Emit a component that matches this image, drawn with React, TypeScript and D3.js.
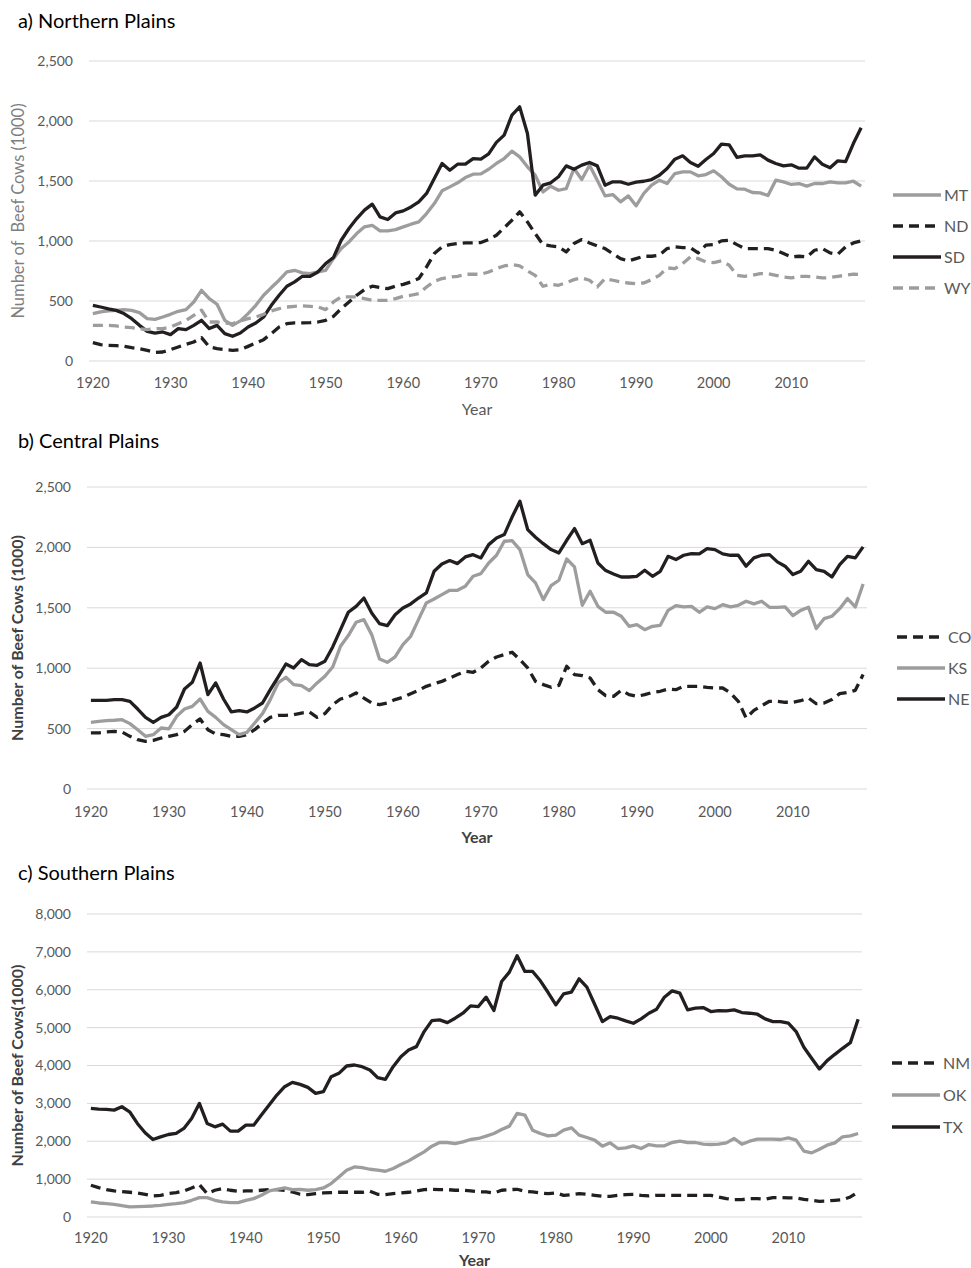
import React from "react";
import * as d3 from "d3";

// years on the category axis
const years = d3.range(1920, 2020);
const decadeTicks = [1920, 1930, 1940, 1950, 1960, 1970, 1980, 1990, 2000, 2010];

// a) Northern Plains
const mt = [
  395, 409, 417, 422, 428, 422, 403, 353, 347, 367,
  389, 414, 428, 492, 589, 520, 473, 339, 297, 334,
  395, 464, 548, 612, 673, 742, 756, 734, 728, 742,
  756, 853, 937, 992, 1062, 1118, 1131, 1084, 1084, 1095,
  1118, 1140, 1159, 1229, 1312, 1418, 1451, 1485, 1529, 1557,
  1560, 1598, 1646, 1687, 1749, 1701, 1618, 1548, 1409, 1456,
  1423, 1437, 1604, 1512, 1632, 1507, 1376, 1387, 1326, 1376,
  1293, 1396, 1465, 1507, 1479, 1562, 1576, 1576, 1543, 1554,
  1585, 1535, 1473, 1434, 1432, 1404, 1401, 1379, 1507, 1493,
  1471, 1479, 1457, 1479, 1479, 1493, 1485, 1485, 1498, 1457,
];
const nd = [
  153, 136, 131, 128, 122, 111, 103, 89, 72, 75,
  95, 117, 139, 158, 195, 117, 103, 95, 89, 95,
  122, 150, 178, 228, 283, 311, 317, 317, 320, 325,
  339, 372, 436, 492, 548, 595, 623, 612, 603, 623,
  639, 659, 687, 784, 895, 951, 970, 979, 984, 984,
  987, 1012, 1048, 1110, 1173, 1243, 1159, 1062, 970, 959,
  951, 909, 979, 1012, 984, 959, 937, 895, 853, 834,
  853, 873, 873, 881, 937, 951, 945, 945, 901, 965,
  970, 1001, 1006, 970, 937, 937, 937, 937, 923, 895,
  867, 873, 867, 923, 937, 901, 890, 951, 984, 1001,
];
const sd = [
  464, 450, 435, 422, 395, 353, 297, 247, 233, 242,
  220, 270, 261, 297, 339, 270, 297, 228, 206, 233,
  283, 317, 367, 464, 548, 623, 659, 706, 706, 742,
  812, 862, 1006, 1104, 1187, 1257, 1307, 1201, 1179, 1234,
  1251, 1284, 1326, 1396, 1521, 1646, 1590, 1640, 1640, 1687,
  1683, 1726, 1822, 1882, 2049, 2118, 1896, 1382, 1465, 1485,
  1535, 1626, 1598, 1632, 1654, 1626, 1465, 1493, 1493, 1473,
  1490, 1498, 1512, 1548, 1604, 1682, 1710, 1654, 1623, 1679,
  1729, 1807, 1801, 1696, 1710, 1710, 1718, 1674, 1646, 1626,
  1635, 1607, 1607, 1701, 1640, 1610, 1668, 1662, 1812, 1943,
];
const wy = [
  297, 297, 297, 292, 283, 278, 270, 261, 270, 270,
  283, 311, 339, 381, 423, 325, 325, 317, 311, 334,
  353, 367, 389, 417, 436, 450, 456, 459, 456, 450,
  428, 492, 534, 534, 534, 520, 506, 506, 506, 520,
  539, 548, 562, 617, 664, 687, 700, 706, 723, 723,
  723, 742, 770, 792, 803, 792, 751, 714, 623, 639,
  631, 653, 678, 692, 673, 617, 687, 673, 659, 650,
  645, 650, 678, 714, 776, 770, 812, 867, 853, 826,
  820, 834, 798, 714, 706, 714, 728, 728, 714, 700,
  692, 706, 706, 700, 692, 695, 706, 714, 723, 720,
];

// b) Central Plains
const co = [
  464, 464, 472, 477, 472, 436, 408, 395, 403, 422,
  436, 450, 477, 533, 580, 491, 455, 450, 436, 436,
  450, 491, 546, 593, 610, 610, 615, 629, 638, 593,
  624, 698, 745, 762, 795, 753, 712, 698, 712, 740,
  759, 789, 817, 850, 872, 891, 919, 947, 974, 966,
  1002, 1057, 1093, 1112, 1132, 1071, 1002, 891, 864, 842,
  858, 1016, 947, 938, 919, 822, 773, 767, 817, 781,
  767, 781, 800, 809, 828, 822, 850, 850, 850, 842,
  836, 836, 795, 726, 588, 651, 690, 726, 726, 718,
  718, 731, 753, 706, 712, 740, 789, 800, 817, 947,
];
const ks = [
  552, 560, 566, 569, 574, 541, 491, 436, 450, 505,
  497, 602, 662, 684, 745, 643, 593, 533, 491, 450,
  469, 546, 624, 740, 878, 925, 864, 856, 814, 878,
  933, 1010, 1181, 1270, 1380, 1402, 1278, 1076, 1049, 1093,
  1195, 1264, 1402, 1540, 1573, 1609, 1645, 1645, 1678, 1761,
  1783, 1871, 1935, 2051, 2056, 1982, 1775, 1706, 1568, 1684,
  1728, 1904, 1838, 1521, 1637, 1512, 1463, 1463, 1430, 1347,
  1361, 1319, 1347, 1355, 1479, 1518, 1507, 1512, 1463, 1507,
  1493, 1526, 1507, 1521, 1554, 1532, 1554, 1504, 1504, 1507,
  1435, 1479, 1504, 1328, 1410, 1430, 1493, 1576, 1507, 1697,
];
const ne = [
  734, 734, 734, 740, 740, 726, 662, 593, 552, 593,
  615, 679, 828, 883, 1043, 781, 878, 745, 638, 649,
  638, 671, 712, 822, 927, 1035, 1002, 1071, 1030, 1024,
  1057, 1176, 1319, 1463, 1512, 1581, 1457, 1369, 1352, 1443,
  1499, 1532, 1581, 1623, 1802, 1863, 1891, 1866, 1921, 1940,
  1913, 2023, 2078, 2106, 2252, 2382, 2147, 2084, 2031, 1982,
  1954, 2059, 2156, 2031, 2059, 1871, 1808, 1780, 1755, 1755,
  1761, 1811, 1761, 1802, 1926, 1899, 1935, 1949, 1946, 1990,
  1982, 1946, 1935, 1935, 1844, 1913, 1935, 1940, 1880, 1844,
  1775, 1802, 1885, 1816, 1802, 1755, 1857, 1926, 1913, 2004,
];

// c) Southern Plains
const nm = [
  838, 776, 723, 688, 670, 653, 635, 600, 556, 573,
  617, 644, 688, 767, 856, 617, 706, 750, 706, 679,
  688, 688, 706, 723, 723, 706, 661, 600, 591, 617,
  635, 644, 653, 653, 653, 653, 679, 600, 591, 617,
  635, 653, 688, 723, 732, 723, 723, 706, 706, 688,
  665, 661, 635, 706, 723, 732, 679, 661, 635, 617,
  635, 573, 591, 617, 600, 573, 547, 547, 573, 591,
  600, 573, 556, 573, 573, 573, 573, 573, 573, 573,
  573, 529, 485, 459, 459, 485, 485, 467, 512, 512,
  503, 503, 467, 441, 415, 423, 441, 459, 529, 661,
];
const ok = [
  397, 370, 353, 335, 300, 265, 273, 282, 291, 309,
  335, 353, 379, 441, 512, 512, 441, 397, 379, 379,
  441, 485, 573, 688, 732, 767, 723, 732, 706, 723,
  767, 882, 1058, 1235, 1323, 1305, 1261, 1235, 1208, 1279,
  1385, 1482, 1605, 1720, 1870, 1967, 1967, 1940, 1985, 2046,
  2073, 2134, 2205, 2311, 2399, 2734, 2690, 2293, 2205, 2143,
  2161, 2293, 2355, 2161, 2099, 2029, 1870, 1958, 1808, 1826,
  1879, 1808, 1914, 1879, 1879, 1967, 2002, 1967, 1967, 1923,
  1914, 1923, 1958, 2073, 1923, 2002, 2055, 2055, 2055, 2046,
  2090, 2029, 1738, 1693, 1791, 1896, 1958, 2117, 2143, 2205,
];
const tx = [
  2866, 2849, 2840, 2822, 2911, 2778, 2470, 2223, 2046, 2117,
  2178, 2205, 2337, 2602, 2999, 2470, 2381, 2452, 2267, 2267,
  2425, 2425, 2690, 2955, 3219, 3440, 3554, 3502, 3422, 3263,
  3308, 3704, 3793, 3987, 4013, 3969, 3881, 3678, 3634, 3969,
  4234, 4410, 4498, 4895, 5186, 5204, 5133, 5248, 5380, 5574,
  5557, 5804, 5451, 6218, 6465, 6897, 6483, 6483, 6236, 5927,
  5601, 5892, 5936, 6289, 6068, 5618, 5160, 5292, 5248, 5177,
  5116, 5230, 5380, 5486, 5804, 5971, 5909, 5468, 5513, 5530,
  5424, 5451, 5442, 5468, 5398, 5380, 5354, 5230, 5160, 5160,
  5116, 4895, 4481, 4190, 3907, 4128, 4295, 4454, 4604, 5221,
];

const BLACK = "#231f20";
const GRAY = "#9d9d9d";
const GRID = "#d9d9d9";
const TEXT = "#595959";
const DASH = "10 6";
const FONT = "Lato, 'Open Sans', sans-serif";

type Series = { name: string; values: number[]; color: string; dashed: boolean };

const panels = [
  {
    title: "a) Northern Plains",
    series: [
      { name: "MT", values: mt, color: GRAY, dashed: false },
      { name: "ND", values: nd, color: BLACK, dashed: true },
      { name: "SD", values: sd, color: BLACK, dashed: false },
      { name: "WY", values: wy, color: GRAY, dashed: true },
    ] as Series[],
    yMax: 2500, yStep: 500,
    left: 89, right: 865, top: 61, bottom: 361,
    titleY: 28, tickLabelX: 73, xLabelY: 388, yearY: 415,
    yTitle: "Number of  Beef Cows (1000)", yTitleX: 24, bold: false,
    legX: 893, legY: 195, legGap: 31,
  },
  {
    title: "b) Central Plains",
    series: [
      { name: "CO", values: co, color: BLACK, dashed: true },
      { name: "KS", values: ks, color: GRAY, dashed: false },
      { name: "NE", values: ne, color: BLACK, dashed: false },
    ] as Series[],
    yMax: 2500, yStep: 500,
    left: 87, right: 867, top: 487, bottom: 789,
    titleY: 448, tickLabelX: 71, xLabelY: 817, yearY: 843,
    yTitle: "Number of Beef Cows (1000)", yTitleX: 23, bold: true,
    legX: 897, legY: 637, legGap: 31,
  },
  {
    title: "c) Southern Plains",
    series: [
      { name: "NM", values: nm, color: BLACK, dashed: true },
      { name: "OK", values: ok, color: GRAY, dashed: false },
      { name: "TX", values: tx, color: BLACK, dashed: false },
    ] as Series[],
    yMax: 8000, yStep: 1000,
    left: 87, right: 862, top: 914, bottom: 1217,
    titleY: 880, tickLabelX: 71, xLabelY: 1243, yearY: 1266,
    yTitle: "Number of Beef Cows(1000)", yTitleX: 23, bold: true,
    legX: 892, legY: 1063, legGap: 32,
  },
];

const fmt = d3.format(",");

function Panel({ p }: { p: (typeof panels)[number] }) {
  const x = d3.scalePoint<number>().domain(years).range([p.left, p.right]).padding(0.5);
  const y = d3.scaleLinear().domain([0, p.yMax]).range([p.bottom, p.top]);
  const yTicks = d3.range(0, p.yMax + 1, p.yStep);
  const line = d3
    .line<number>()
    .x((_, i) => x(years[i]) as number)
    .y((d) => y(d));
  const midY = (p.top + p.bottom) / 2;

  return (
    <g>
      <text x={18} y={p.titleY} fontSize={20} fill="#000">
        {p.title}
      </text>
      {yTicks.map((t) => (
        <g key={t}>
          <line x1={p.left} x2={p.right} y1={y(t)} y2={y(t)} stroke={GRID} strokeWidth={1} />
          <text x={p.tickLabelX} y={y(t)} dy="0.35em" textAnchor="end" fontSize={14} fill={TEXT}>
            {fmt(t)}
          </text>
        </g>
      ))}
      {decadeTicks.map((yr) => (
        <text key={yr} x={x(yr)} y={p.xLabelY} textAnchor="middle" fontSize={14.5} fill={TEXT}>
          {yr}
        </text>
      ))}
      <text
        x={(p.left + p.right) / 2}
        y={p.yearY}
        textAnchor="middle"
        fontSize={16}
        fontWeight={p.bold ? 700 : 400}
        fill={p.bold ? "#404040" : TEXT}
      >
        Year
      </text>
      <text
        transform={`translate(${p.yTitleX},${midY}) rotate(-90)`}
        textAnchor="middle"
        fontSize={p.bold ? 16 : 16.5}
        fontWeight={p.bold ? 700 : 400}
        fill={p.bold ? "#404040" : "#7f7f7f"}
        style={{ whiteSpace: "pre" }}
      >
        {p.yTitle}
      </text>
      {p.series.map((s) => (
        <path
          key={s.name}
          d={line(s.values) || ""}
          fill="none"
          stroke={s.color}
          strokeWidth={3.3}
          strokeDasharray={s.dashed ? DASH : undefined}
          strokeLinejoin="round"
        />
      ))}
      {p.series.map((s, i) => (
        <g key={s.name} transform={`translate(${p.legX},${p.legY + i * p.legGap})`}>
          <line
            x1={0}
            x2={48}
            y1={0}
            y2={0}
            stroke={s.color}
            strokeWidth={3.3}
            strokeDasharray={s.dashed ? DASH : undefined}
          />
          <text x={51} y={0} dy="0.35em" fontSize={16} fill={TEXT}>
            {s.name}
          </text>
        </g>
      ))}
    </g>
  );
}

export default function App() {
  return (
    <div style={{ position: "absolute", left: 0, top: 0 }}>
      <svg width={971} height={1268} style={{ display: "block", fontFamily: FONT, background: "#fff" }}>
        {panels.map((p) => (
          <Panel key={p.title} p={p} />
        ))}
      </svg>
    </div>
  );
}
